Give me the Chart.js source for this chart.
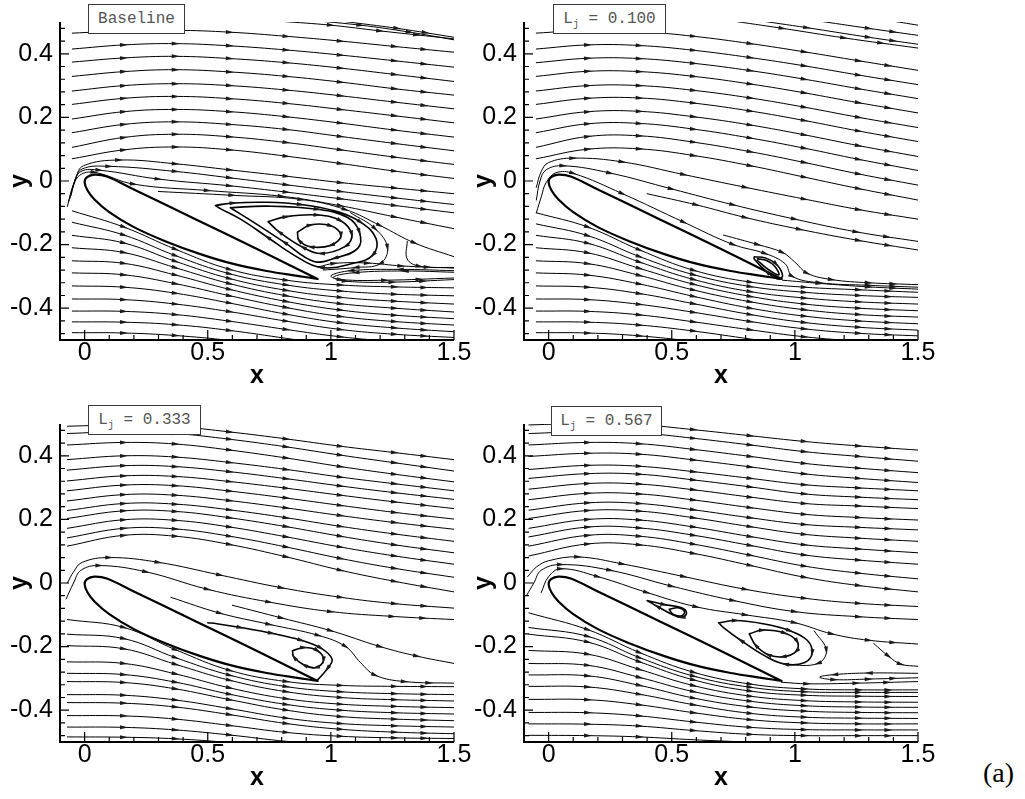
<!DOCTYPE html>
<html>
<head>
<meta charset="utf-8">
<script src="https://cdn.jsdelivr.net/npm/chart.js@4.4.1/dist/chart.umd.min.js"></script>
<style>
html, body { margin: 0; padding: 0; background: #fff; }
#page { position: relative; width: 1025px; height: 799px; overflow: hidden; }
#page canvas { position: absolute; }
.tag { position: absolute; box-sizing: border-box; height: 30px; background: #fff; border: 1px solid #3a3a3a;
       font: 16px "Liberation Mono", "Courier New", monospace; color: #555; line-height: 28px;
       text-align: center; white-space: pre; }
.tag sub { font-size: 10px; line-height: 0; vertical-align: -4px; }
#fig { position: absolute; left: 983px; top: 759px; font: 28px "Liberation Serif", "Times New Roman", serif; line-height: 1; color: #000; }
</style>
</head>
<body>
<div id="page">
  <canvas id="c1" width="490" height="395" style="left:0;top:0"></canvas>
  <canvas id="c2" width="490" height="395" style="left:464px;top:0"></canvas>
  <canvas id="c3" width="490" height="395" style="left:0;top:402px"></canvas>
  <canvas id="c4" width="490" height="395" style="left:464px;top:402px"></canvas>
  <div id="fig">(a)</div>
</div>
<script>
// axis ticks
const xTickValues = [0, 0.5, 1, 1.5];
const yTickValues = [-0.4, -0.2, 0, 0.2, 0.4];
const xMinorTicks = [-0.1, 0.1, 0.2, 0.3, 0.4, 0.6, 0.7, 0.8, 0.9, 1.1, 1.2, 1.3, 1.4];
const yMinorTicks = [-0.48, -0.44, -0.36, -0.32, -0.28, -0.24, -0.16, -0.12, -0.08, -0.04,
                     0.04, 0.08, 0.12, 0.16, 0.24, 0.28, 0.32, 0.36, 0.44, 0.48];

// panel captions
const panelNames = ['Baseline', 'L_j = 0.100', 'L_j = 0.333', 'L_j = 0.567'];

// airfoil outline (same in every panel)
const airfoil = [[0.946,-0.308],[0.7,-0.214],[0.45,-0.12],[0.2,-0.027],[0.09,0.014],[0.04,0.02],[0.01,0.012],
  [0.0,-0.004],[0.012,-0.03],[0.04,-0.058],[0.1,-0.098],[0.2,-0.145],[0.33,-0.19],[0.47,-0.23],
  [0.6,-0.26],[0.74,-0.283],[0.87,-0.299],[0.946,-0.308]];

// ---------- Baseline ----------
const xs1 = [-0.05, 0.16, 0.37, 0.59, 0.82, 1.04, 1.26, 1.5];
const upper1 = [
  [0.465,0.472,0.474,0.468,0.455,0.44,0.423,0.405],
  [0.415,0.428,0.432,0.425,0.412,0.396,0.378,0.358],
  [0.374,0.387,0.392,0.385,0.372,0.355,0.335,0.313],
  [0.329,0.344,0.35,0.343,0.329,0.311,0.29,0.27],
  [0.283,0.3,0.306,0.3,0.286,0.268,0.248,0.227],
  [0.241,0.26,0.266,0.259,0.244,0.225,0.205,0.183],
  [0.195,0.218,0.225,0.218,0.202,0.182,0.16,0.138],
  [0.152,0.178,0.186,0.178,0.162,0.14,0.118,0.095],
  [0.106,0.137,0.147,0.139,0.121,0.098,0.075,0.052],
  [0.07,0.098,0.107,0.098,0.078,0.055,0.031,0.008]
];
const lower1 = [
  [-0.094,-0.145,-0.215,-0.278,-0.312,-0.327,-0.333,-0.336],
  [-0.13,-0.17,-0.235,-0.292,-0.327,-0.346,-0.356,-0.361],
  [-0.171,-0.195,-0.253,-0.307,-0.344,-0.366,-0.378,-0.387],
  [-0.21,-0.225,-0.273,-0.323,-0.361,-0.386,-0.4,-0.412],
  [-0.251,-0.259,-0.296,-0.341,-0.379,-0.406,-0.422,-0.433],
  [-0.289,-0.295,-0.323,-0.361,-0.398,-0.426,-0.442,-0.453],
  [-0.33,-0.334,-0.353,-0.384,-0.419,-0.446,-0.462,-0.474],
  [-0.371,-0.373,-0.387,-0.411,-0.441,-0.467,-0.482,-0.492],
  [-0.409,-0.41,-0.42,-0.441,-0.467,-0.49,-0.505,-0.515],
  [-0.443,-0.444,-0.452,-0.47,-0.495,-0.52,-0.54,-0.55],
  [-0.477,-0.478,-0.486,-0.502,-0.53,-0.56,-0.58,-0.6]
];
const other1 = [
  [[-0.055,-0.045],[-0.035,0.012,0],[-0.005,0.048,0],[0.14,0.066],[0.37,0.054],[0.59,0.035],[0.82,0.015],[1.04,-0.005],[1.26,-0.022],[1.5,-0.04]],
  [[-0.06,-0.055],[-0.04,0.0,0],[-0.01,0.038,0],[0.1,0.046],[0.37,0.03],[0.59,0.01],[0.82,-0.012],[1.04,-0.033],[1.26,-0.053],[1.5,-0.074]],
  [[-0.065,-0.065],[-0.045,-0.01,0],[-0.015,0.03,0],[0.06,0.034],[0.3,0.006],[0.59,-0.015],[0.82,-0.035],[1.04,-0.056],[1.26,-0.077],[1.5,-0.1]],
  [[-0.07,-0.08],[-0.05,-0.025,0],[-0.02,0.018,0],[0.04,0.027],[0.2,-0.01],[0.5,-0.03],[0.8,-0.048],[1.04,-0.078],[1.26,-0.113],[1.5,-0.15]],
  [[0.3,-0.033],[0.6,-0.045],[0.88,-0.058],[1.06,-0.09],[1.2,-0.14],[1.34,-0.195],[1.5,-0.238]],
  [[1.08,-0.1],[1.18,-0.15],[1.23,-0.21],[1.2,-0.26],[1.1,-0.272],[0.97,-0.28]],
  [[0.95,-0.27],[1.014,-0.259],[1.15,-0.258],[1.286,-0.267],[1.5,-0.274]],
  [[1.5,-0.287],[1.3,-0.283],[1.1,-0.288],[1.01,-0.302,0],[1.06,-0.315],[1.25,-0.318],[1.5,-0.31]],
  [[1.5,-0.282],[1.28,-0.278],[1.08,-0.282],[1.0,-0.298,0],[1.04,-0.31],[1.22,-0.312],[1.5,-0.305]],
  [[1.31,-0.19],[1.31,-0.245,0],[1.36,-0.268],[1.5,-0.272]],
  [[0.8,0.502],[1.0,0.49],[1.2,0.472],[1.5,0.447]],
  [[1.05,0.502],[1.27,0.48],[1.5,0.452]],
  [[0.85,0.51],[1.12,0.49],[1.32,0.468],[1.5,0.444]]
];
const loops1 = [
  [[0.531,-0.077],[0.605,-0.069],[0.741,-0.067,0],[0.878,-0.074],[1.014,-0.094,0],[1.122,-0.13],[1.184,-0.182,0],[1.17,-0.233],[1.095,-0.258,0],[0.959,-0.272],[0.85,-0.233,0],[0.741,-0.176],[0.633,-0.12,0],[0.551,-0.087,0],[0.531,-0.077]],
  [[0.592,-0.084],[0.741,-0.079,0],[0.946,-0.089],[1.068,-0.115,0],[1.116,-0.161],[1.109,-0.212,0],[1.014,-0.243],[0.932,-0.253,0],[0.81,-0.192],[0.687,-0.13,0],[0.592,-0.084]],
  [[0.745,-0.128],[0.82,-0.112],[0.946,-0.107],[1.04,-0.125],[1.085,-0.168],[1.06,-0.205],[0.96,-0.228],[0.885,-0.208],[0.79,-0.16],[0.745,-0.128]],
  [[0.864,-0.161],[0.918,-0.138],[1.0,-0.141],[1.041,-0.171],[1.0,-0.202],[0.918,-0.207],[0.871,-0.187],[0.864,-0.161]]
];

// ---------- Lj = 0.100 ----------
const xs2 = [-0.05, 0.16, 0.37, 0.59, 0.82, 1.04, 1.26, 1.5];
const upper2 = [
  [0.465,0.474,0.47,0.455,0.432,0.406,0.378,0.348],
  [0.415,0.428,0.426,0.411,0.388,0.362,0.333,0.303],
  [0.372,0.386,0.385,0.37,0.347,0.32,0.29,0.259],
  [0.329,0.345,0.344,0.329,0.305,0.277,0.246,0.214],
  [0.283,0.3,0.3,0.285,0.261,0.232,0.2,0.168],
  [0.241,0.26,0.261,0.245,0.22,0.19,0.157,0.124],
  [0.195,0.218,0.219,0.202,0.176,0.145,0.111,0.077],
  [0.152,0.18,0.181,0.163,0.135,0.103,0.068,0.033],
  [0.106,0.14,0.142,0.122,0.092,0.058,0.022,-0.013],
  [0.07,0.1,0.101,0.08,0.048,0.012,-0.024,-0.06]
];
const lower2 = [
  [-0.1,-0.145,-0.217,-0.281,-0.318,-0.334,-0.342,-0.35],
  [-0.135,-0.172,-0.238,-0.295,-0.332,-0.35,-0.36,-0.366],
  [-0.171,-0.196,-0.255,-0.31,-0.348,-0.368,-0.38,-0.387],
  [-0.21,-0.226,-0.275,-0.325,-0.363,-0.387,-0.4,-0.408],
  [-0.251,-0.26,-0.297,-0.343,-0.38,-0.405,-0.42,-0.428],
  [-0.289,-0.296,-0.324,-0.363,-0.4,-0.425,-0.44,-0.449],
  [-0.33,-0.334,-0.354,-0.386,-0.42,-0.445,-0.46,-0.469],
  [-0.371,-0.373,-0.388,-0.413,-0.442,-0.465,-0.479,-0.487],
  [-0.409,-0.41,-0.421,-0.443,-0.468,-0.49,-0.503,-0.51],
  [-0.443,-0.444,-0.453,-0.472,-0.497,-0.52,-0.535,-0.545],
  [-0.477,-0.478,-0.487,-0.505,-0.53,-0.555,-0.57,-0.58]
];
const other2 = [
  [[-0.05,-0.02],[-0.03,0.03,0],[0.0,0.058,0],[0.1,0.072],[0.3,0.06],[0.55,0.02],[0.8,-0.02],[1.04,-0.057],[1.26,-0.09],[1.5,-0.12]],
  [[-0.05,-0.06],[-0.035,0.0,0],[-0.01,0.035,0],[0.06,0.048],[0.25,0.025],[0.5,-0.025],[0.75,-0.075],[1.0,-0.12],[1.25,-0.16],[1.5,-0.19]],
  [[-0.05,-0.1],[-0.03,-0.05,0],[-0.01,-0.005,0],[0.03,0.026,0],[0.1,0.024],[0.3,-0.04],[0.55,-0.13],[0.75,-0.2],[0.88,-0.228],[0.96,-0.26,0],[0.99,-0.3],[1.1,-0.32],[1.3,-0.328],[1.5,-0.334]],
  [[0.4,-0.04],[0.6,-0.075],[0.8,-0.115],[1.02,-0.152],[1.26,-0.187],[1.5,-0.217]],
  [[0.71,-0.17],[0.85,-0.2],[0.95,-0.225],[1.0,-0.255,0],[1.05,-0.29],[1.15,-0.31],[1.3,-0.32],[1.5,-0.326]],
  [[0.95,-0.312],[1.1,-0.322],[1.3,-0.333],[1.5,-0.34]],
  [[0.73,0.505],[0.95,0.48],[1.2,0.45],[1.5,0.418]],
  [[0.83,0.507],[1.05,0.482],[1.3,0.452],[1.5,0.43]],
  [[1.08,0.505],[1.3,0.48],[1.5,0.458]],
  [[1.38,0.505],[1.5,0.49]]
];
const loops2 = [
  [[0.835,-0.238],[0.88,-0.242,0],[0.925,-0.262],[0.95,-0.298,0],[0.93,-0.308,0],[0.885,-0.285],[0.835,-0.245,0],[0.835,-0.238]],
  [[0.848,-0.245],[0.885,-0.25,0],[0.918,-0.268,0],[0.935,-0.295,0],[0.895,-0.28,0],[0.848,-0.25]]
];

// ---------- Lj = 0.333 ----------
const xs3 = [-0.07, 0.16, 0.37, 0.59, 0.82, 1.04, 1.26, 1.5];
const upper3 = [
  [0.493,0.497,0.492,0.475,0.453,0.43,0.41,0.388],
  [0.47,0.476,0.47,0.452,0.428,0.402,0.378,0.352],
  [0.434,0.442,0.437,0.418,0.393,0.366,0.342,0.318],
  [0.388,0.4,0.396,0.379,0.357,0.333,0.312,0.29],
  [0.355,0.369,0.366,0.35,0.328,0.305,0.284,0.263],
  [0.321,0.337,0.335,0.319,0.298,0.276,0.255,0.234],
  [0.29,0.308,0.306,0.289,0.267,0.244,0.222,0.201],
  [0.258,0.278,0.276,0.259,0.236,0.212,0.19,0.169],
  [0.228,0.25,0.248,0.23,0.205,0.178,0.154,0.131],
  [0.203,0.227,0.225,0.205,0.177,0.147,0.12,0.095],
  [0.172,0.199,0.197,0.176,0.145,0.113,0.085,0.059],
  [0.142,0.172,0.17,0.147,0.113,0.077,0.046,0.018],
  [0.116,0.15,0.147,0.121,0.082,0.04,0.005,-0.028]
];
const lower3 = [
  [-0.115,-0.14,-0.21,-0.275,-0.31,-0.322,-0.325,-0.326],
  [-0.161,-0.175,-0.235,-0.29,-0.326,-0.342,-0.348,-0.351],
  [-0.197,-0.207,-0.256,-0.306,-0.342,-0.36,-0.367,-0.371],
  [-0.248,-0.253,-0.286,-0.33,-0.364,-0.381,-0.388,-0.392],
  [-0.284,-0.288,-0.312,-0.35,-0.382,-0.4,-0.408,-0.412],
  [-0.31,-0.313,-0.333,-0.367,-0.4,-0.42,-0.428,-0.433],
  [-0.351,-0.353,-0.368,-0.395,-0.425,-0.442,-0.449,-0.453],
  [-0.376,-0.378,-0.39,-0.414,-0.442,-0.46,-0.469,-0.474],
  [-0.417,-0.418,-0.428,-0.448,-0.47,-0.482,-0.487,-0.489],
  [-0.453,-0.454,-0.462,-0.478,-0.498,-0.51,-0.52,-0.525],
  [-0.484,-0.485,-0.49,-0.502,-0.52,-0.535,-0.545,-0.55]
];
const other3 = [
  [[-0.07,0.0],[-0.045,0.035,0],[-0.01,0.065,0],[0.1,0.08],[0.3,0.065],[0.55,0.025],[0.8,-0.015],[1.04,-0.045],[1.26,-0.065],[1.5,-0.079]],
  [[-0.075,-0.05],[-0.045,0.0,0],[-0.015,0.04,0],[0.06,0.055],[0.25,0.035],[0.5,-0.02],[0.75,-0.06],[1.0,-0.09],[1.25,-0.105],[1.5,-0.115]],
  [[0.35,-0.045],[0.55,-0.095],[0.75,-0.13],[0.95,-0.165],[1.06,-0.2],[1.12,-0.25,0],[1.18,-0.29],[1.3,-0.31],[1.5,-0.315]],
  [[0.6,-0.07],[0.8,-0.11],[1.0,-0.15],[1.2,-0.2],[1.35,-0.23],[1.5,-0.253]]
];
const loops3 = [
  [[0.5,-0.125],[0.537,-0.128,0],[0.633,-0.14],[0.76,-0.158],[0.88,-0.18],[0.96,-0.205],[1.005,-0.24,0],[0.985,-0.27],[0.946,-0.305]],
  [[0.844,-0.213],[0.891,-0.203],[0.946,-0.213],[0.97,-0.243],[0.939,-0.266],[0.891,-0.258],[0.85,-0.233],[0.844,-0.213]]
];

// ---------- Lj = 0.567 ----------
const xs4 = [-0.08, 0.16, 0.37, 0.59, 0.82, 1.04, 1.26, 1.5];
const upper4 = [
  [0.497,0.502,0.498,0.482,0.463,0.445,0.431,0.418],
  [0.47,0.476,0.472,0.455,0.434,0.413,0.398,0.383],
  [0.434,0.442,0.438,0.42,0.398,0.376,0.361,0.347],
  [0.398,0.408,0.405,0.387,0.365,0.343,0.329,0.316],
  [0.357,0.37,0.367,0.35,0.329,0.309,0.299,0.29],
  [0.329,0.344,0.342,0.324,0.302,0.28,0.27,0.262],
  [0.295,0.313,0.311,0.293,0.27,0.25,0.242,0.234],
  [0.262,0.282,0.28,0.261,0.237,0.216,0.206,0.198],
  [0.229,0.252,0.25,0.23,0.205,0.184,0.175,0.167],
  [0.203,0.228,0.226,0.205,0.177,0.153,0.141,0.131],
  [0.172,0.2,0.198,0.176,0.146,0.12,0.107,0.095],
  [0.145,0.176,0.173,0.15,0.118,0.088,0.072,0.059],
  [0.116,0.15,0.147,0.122,0.087,0.053,0.031,0.013],
  [0.085,0.123,0.12,0.093,0.055,0.018,-0.008,-0.028]
];
const lower4 = [
  [-0.094,-0.147,-0.219,-0.281,-0.318,-0.333,-0.336,-0.336],
  [-0.14,-0.168,-0.235,-0.293,-0.328,-0.342,-0.344,-0.344],
  [-0.161,-0.186,-0.248,-0.305,-0.34,-0.353,-0.356,-0.357],
  [-0.212,-0.224,-0.272,-0.323,-0.356,-0.37,-0.374,-0.375],
  [-0.253,-0.259,-0.297,-0.342,-0.372,-0.386,-0.39,-0.391],
  [-0.289,-0.292,-0.322,-0.362,-0.39,-0.403,-0.407,-0.408],
  [-0.325,-0.327,-0.35,-0.383,-0.41,-0.422,-0.425,-0.426],
  [-0.366,-0.367,-0.383,-0.408,-0.43,-0.44,-0.443,-0.443],
  [-0.407,-0.408,-0.418,-0.437,-0.454,-0.461,-0.462,-0.462],
  [-0.443,-0.444,-0.45,-0.464,-0.476,-0.48,-0.48,-0.48],
  [-0.479,-0.48,-0.484,-0.493,-0.5,-0.502,-0.502,-0.502]
];
const other4 = [
  [[-0.085,0.02],[-0.05,0.05,0],[0.0,0.07,0],[0.12,0.082],[0.3,0.06],[0.55,0.02],[0.8,-0.02],[1.04,-0.048],[1.26,-0.064],[1.5,-0.074]],
  [[-0.09,-0.04],[-0.06,0.0,0],[-0.03,0.04,0],[0.05,0.058],[0.25,0.04],[0.5,-0.01],[0.75,-0.055],[1.0,-0.09],[1.26,-0.106],[1.5,-0.115]],
  [[-0.03,-0.03],[0.0,0.02,0],[0.05,0.045],[0.2,0.02],[0.4,-0.03],[0.6,-0.075],[0.8,-0.1],[1.0,-0.125],[1.15,-0.16],[1.3,-0.18],[1.5,-0.192]],
  [[1.079,-0.151],[1.128,-0.212],[1.093,-0.253],[0.968,-0.258]],
  [[0.945,-0.312],[1.05,-0.317],[1.25,-0.315],[1.5,-0.31]],
  [[1.5,-0.284],[1.3,-0.283],[1.16,-0.288],[1.1,-0.296,0],[1.16,-0.304],[1.3,-0.302],[1.5,-0.298]],
  [[1.32,-0.19],[1.38,-0.23],[1.43,-0.255],[1.5,-0.262]]
];
const loops4 = [
  [[0.4,-0.055],[0.47,-0.068],[0.54,-0.078,0],[0.56,-0.095,0],[0.54,-0.108],[0.5,-0.098,0],[0.44,-0.073],[0.4,-0.055]],
  [[0.49,-0.083],[0.525,-0.078,0],[0.552,-0.09,0],[0.54,-0.103,0],[0.505,-0.098,0],[0.49,-0.083]],
  [[0.69,-0.125],[0.76,-0.118],[0.87,-0.128,0],[0.98,-0.15],[1.05,-0.18,0],[1.07,-0.22],[1.04,-0.25,0],[0.96,-0.255],[0.88,-0.23,0],[0.78,-0.18],[0.71,-0.14,0],[0.69,-0.125]],
  [[0.815,-0.16],[0.87,-0.148],[0.96,-0.158],[1.01,-0.185],[1.005,-0.215],[0.95,-0.232],[0.89,-0.225],[0.84,-0.195],[0.815,-0.16]]
];

const panels = [
  { id: 'c1', xs: xs1, upper: upper1, lower: lower1, other: other1, loops: loops1 },
  { id: 'c2', xs: xs2, upper: upper2, lower: lower2, other: other2, loops: loops2 },
  { id: 'c3', xs: xs3, upper: upper3, lower: lower3, other: other3, loops: loops3 },
  { id: 'c4', xs: xs4, upper: upper4, lower: lower4, other: other4, loops: loops4 }
];

const toPts = arr => arr.map(p => ({ x: p[0], y: p[1], a: p.length > 2 ? p[2] : 1 }));
const gridPts = (xs, ys) => ys.map((y, i) => ({ x: xs[i], y: y, a: 1 }));

function lineSet(pts, width, arrows, tail) {
  return {
    data: pts, borderColor: '#000', borderWidth: width, tension: 0.4, fill: false,
    borderCapStyle: 'round', borderJoinStyle: 'round', pointRadius: 0,
    arrows: arrows, tail: tail
  };
}

// arrow heads along the streamlines, placed on the library's own point elements
function drawHead(ctx, a, x, y, dx, dy) {
  if (x < a.left + 3 || x > a.right - 3 || y < a.top + 3 || y > a.bottom - 3) return;
  ctx.save();
  ctx.translate(x, y);
  ctx.rotate(Math.atan2(dy, dx));
  ctx.beginPath(); ctx.moveTo(4, 0); ctx.lineTo(-4, -2); ctx.lineTo(-4, 2); ctx.closePath(); ctx.fill();
  ctx.restore();
}
const streamArrows = {
  id: 'streamArrows',
  afterDatasetsDraw(chart) {
    const { ctx, chartArea: a } = chart;
    ctx.save();
    ctx.fillStyle = '#1a1a1a';
    chart.data.datasets.forEach((ds, di) => {
      if (!ds.arrows) return;
      const el = chart.getDatasetMeta(di).data, n = el.length;
      for (let i = 1; i < n - 1; i++) {
        if (!ds.data[i].a) continue;
        const p = el[i];
        let dx = p.cp2x - p.cp1x, dy = p.cp2y - p.cp1y;
        if (!dx && !dy) { dx = el[i + 1].x - el[i - 1].x; dy = el[i + 1].y - el[i - 1].y; }
        drawHead(ctx, a, p.x, p.y, dx, dy);
      }
      if (ds.tail && n > 1) {
        const p0 = el[n - 2], p1 = el[n - 1];
        if (Math.hypot(p1.x - p0.x, p1.y - p0.y) > 45) {
          const mx = (p0.x + 3 * p0.cp2x + 3 * p1.cp1x + p1.x) / 8;
          const my = (p0.y + 3 * p0.cp2y + 3 * p1.cp1y + p1.y) / 8;
          drawHead(ctx, a, mx, my, p1.x + p1.cp1x - p0.cp2x - p0.x, p1.y + p1.cp1y - p0.cp2y - p0.y);
        }
      }
    });
    ctx.restore();
  }
};

// inward ticks + left/bottom axis lines, Tecplot style
const tecAxes = {
  id: 'tecAxes',
  afterDatasetsDraw(chart) {
    const { ctx, chartArea: a, scales: { x, y } } = chart;
    ctx.save();
    ctx.strokeStyle = '#000';
    ctx.lineWidth = 1.2;
    ctx.beginPath();
    xMinorTicks.forEach(v => { const p = x.getPixelForValue(v); ctx.moveTo(p, a.bottom); ctx.lineTo(p, a.bottom - 5); });
    xTickValues.forEach(v => { const p = x.getPixelForValue(v); ctx.moveTo(p, a.bottom); ctx.lineTo(p, a.bottom - 10); });
    yMinorTicks.forEach(v => { const p = y.getPixelForValue(v); ctx.moveTo(a.left, p); ctx.lineTo(a.left + 5, p); });
    yTickValues.forEach(v => { const p = y.getPixelForValue(v); ctx.moveTo(a.left, p); ctx.lineTo(a.left + 9, p); });
    ctx.stroke();
    ctx.lineWidth = 2;
    ctx.beginPath();
    ctx.moveTo(a.left, a.top); ctx.lineTo(a.left, a.bottom); ctx.lineTo(a.right, a.bottom);
    ctx.stroke();
    ctx.restore();
  }
};

Chart.defaults.font.family = '"Liberation Sans", Arial, sans-serif';
Chart.defaults.color = '#000';

panels.forEach(p => {
  const sets = [];
  p.upper.forEach(ys => sets.push(lineSet(gridPts(p.xs, ys), 1, true, true)));
  p.lower.forEach(ys => sets.push(lineSet(gridPts(p.xs, ys), 1, true, true)));
  p.other.forEach(l => sets.push(lineSet(toPts(l), 1, true, true)));
  p.loops.forEach(l => sets.push(lineSet(toPts(l), 1.6, true, false)));
  sets.push(lineSet(toPts(airfoil), 2.2, false, false));

  new Chart(document.getElementById(p.id), {
    type: 'line',
    data: { datasets: sets },
    plugins: [streamArrows, tecAxes],
    options: {
      responsive: false,
      animation: false,
      events: [],
      layout: { padding: { top: 15, right: 36, bottom: 0, left: 0 } },
      plugins: { legend: { display: false }, tooltip: { enabled: false } },
      scales: {
        x: {
          type: 'linear', min: -0.1, max: 1.5,
          afterBuildTicks: s => { s.ticks = xTickValues.map(v => ({ value: v })); },
          afterFit: s => { s.height = 55; },
          grid: { display: false, drawTicks: false }, border: { display: false },
          ticks: { font: { size: 25 }, padding: -2, maxRotation: 0, autoSkip: false, callback: v => String(v) },
          title: { display: true, text: 'x', font: { size: 25, weight: 'bold' }, padding: { top: 0, bottom: 4 } }
        },
        y: {
          type: 'linear', min: -0.5, max: 0.5,
          afterBuildTicks: s => { s.ticks = yTickValues.map(v => ({ value: v })); },
          afterFit: s => { s.width = 60; },
          grid: { display: false, drawTicks: false }, border: { display: false },
          ticks: { font: { size: 25 }, padding: 7, autoSkip: false, callback: v => String(Math.round(v * 10) / 10) },
          title: { display: true, text: 'y', font: { size: 25, weight: 'bold' }, padding: { top: 5, bottom: 0 } }
        }
      }
    }
  });
});

// caption boxes
const tagBoxes = [[88, 4, 97], [553, 4, 113], [88, 405, 113], [551, 406, 111]];
panelNames.forEach((name, i) => {
  const d = document.createElement('div');
  d.className = 'tag';
  d.style.left = tagBoxes[i][0] + 'px';
  d.style.top = tagBoxes[i][1] + 'px';
  d.style.width = tagBoxes[i][2] + 'px';
  d.innerHTML = name.replace('L_j', 'L<sub>j</sub>');
  document.getElementById('page').appendChild(d);
});
</script>
</body>
</html>
